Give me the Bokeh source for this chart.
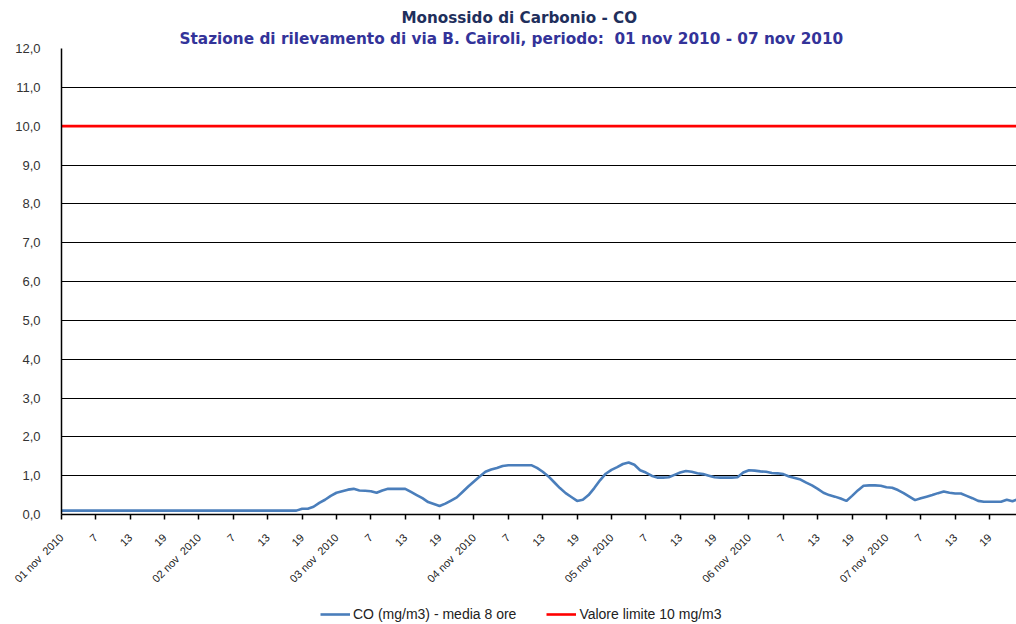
import math
from bokeh.plotting import figure
from bokeh.layouts import column
from bokeh.models import FixedTicker, Legend, LegendItem, Title, Range1d
from bokeh.embed import file_html
from bokeh.resources import INLINE

# Hourly CO 8-hour mean values (mg/m3), one list per day
nov01 = [0.10, 0.10, 0.10, 0.10, 0.10, 0.10, 0.10, 0.10, 0.10, 0.10, 0.10, 0.10,
         0.10, 0.10, 0.10, 0.10, 0.10, 0.10, 0.10, 0.10, 0.10, 0.10, 0.10, 0.10]
nov02 = [0.10, 0.10, 0.10, 0.10, 0.10, 0.10, 0.10, 0.10, 0.10, 0.10, 0.10, 0.10,
         0.10, 0.10, 0.10, 0.10, 0.10, 0.10, 0.15, 0.15, 0.20, 0.30, 0.38, 0.48]
nov03 = [0.56, 0.60, 0.64, 0.66, 0.62, 0.61, 0.60, 0.56, 0.62, 0.66, 0.66, 0.66,
         0.66, 0.58, 0.50, 0.42, 0.32, 0.27, 0.22, 0.28, 0.36, 0.44, 0.58, 0.72]
nov04 = [0.85, 0.98, 1.10, 1.16, 1.20, 1.25, 1.27, 1.27, 1.27, 1.27, 1.27, 1.20,
         1.10, 0.98, 0.83, 0.68, 0.55, 0.45, 0.35, 0.38, 0.50, 0.68, 0.88, 1.05]
nov05 = [1.15, 1.22, 1.30, 1.34, 1.28, 1.14, 1.08, 1.00, 0.95, 0.95, 0.96, 1.02,
         1.08, 1.12, 1.10, 1.06, 1.04, 1.00, 0.96, 0.95, 0.95, 0.95, 0.96, 1.08]
nov06 = [1.14, 1.13, 1.11, 1.10, 1.07, 1.06, 1.04, 0.98, 0.94, 0.90, 0.82, 0.75,
         0.66, 0.56, 0.50, 0.46, 0.41, 0.35, 0.48, 0.62, 0.74, 0.75, 0.75, 0.74]
nov07 = [0.70, 0.69, 0.63, 0.55, 0.46, 0.37, 0.42, 0.46, 0.50, 0.55, 0.59, 0.56,
         0.54, 0.54, 0.48, 0.42, 0.35, 0.33, 0.33, 0.33, 0.33, 0.38, 0.34, 0.40]

co_values = nov01 + nov02 + nov03 + nov04 + nov05 + nov06 + nov07
hours = list(range(len(co_values)))

limit_x = [0, 167]
limit_y = [10.0, 10.0]

day_labels = ["01 nov\u00a0 2010", "02 nov\u00a0 2010", "03 nov\u00a0 2010", "04 nov\u00a0 2010",
              "05 nov\u00a0 2010", "06 nov\u00a0 2010", "07 nov\u00a0 2010"]
hour_labels = ["7", "13", "19"]
y_ticks = [0, 1, 2, 3, 4, 5, 6, 7, 8, 9, 10, 11, 12]

title_text = "Monossido di Carbonio - CO"
subtitle_text = "Stazione di rilevamento di via B. Cairoli, periodo:\u00a0 01 nov 2010 - 07 nov 2010"
series_label = "CO (mg/m3) - media 8 ore"
limit_label = "Valore limite 10 mg/m3"

CO_COLOR = "#4a7ebb"
LIMIT_COLOR = "#ff0000"

p = figure(width=1016, height=604, output_backend="svg", toolbar_location=None,
           x_range=Range1d(0, 166.7), y_range=Range1d(0, 12),
           min_border_left=61, min_border_right=0, min_border_top=48, min_border_bottom=90)
p.outline_line_color = None
p.background_fill_color = "white"
p.border_fill_color = "white"

p.add_layout(Title(text=subtitle_text, align="left", offset=118, text_font="DejaVu Sans",
                   text_font_size="15.3px", text_font_style="bold",
                   text_color="#333399", standoff=2), "above")
p.add_layout(Title(text=title_text, align="left", offset=340, text_font="DejaVu Sans",
                   text_font_size="15.2px", text_font_style="bold",
                   text_color="#1f2f5c", standoff=0), "above")

p.line(hours, co_values, line_color=CO_COLOR, line_width=2.6)
p.line(limit_x, limit_y, line_color=LIMIT_COLOR, line_width=2.6)

# x axis
ticks = list(range(0, 167, 6))
overrides = {}
for t in ticks:
    if t % 24 == 0:
        overrides[t] = day_labels[t // 24]
    else:
        overrides[t] = hour_labels[(t % 24) // 6 - 1]
p.xaxis.ticker = FixedTicker(ticks=ticks)
p.xaxis.major_label_overrides = overrides
p.xaxis.major_label_orientation = math.pi / 4
p.xaxis.major_label_text_font = "Liberation Sans"
p.xaxis.major_label_text_font_size = "11px"
p.xaxis.major_label_text_color = "#222222"
p.xaxis.axis_line_color = "black"
p.xaxis.axis_line_width = 1.5
p.xaxis.major_tick_line_color = "black"
p.xaxis.major_tick_line_width = 1.5
p.xaxis.major_tick_in = 0
p.xaxis.major_tick_out = 5
p.xaxis.minor_tick_line_color = None
p.xaxis.major_label_standoff = 16

# y axis
p.yaxis.ticker = FixedTicker(ticks=y_ticks)
p.yaxis.major_label_overrides = {v: f"{v},0" for v in y_ticks}
p.yaxis.major_label_text_font = "Liberation Sans"
p.yaxis.major_label_text_font_size = "13px"
p.yaxis.major_label_text_color = "#333333"
p.yaxis.axis_line_color = "black"
p.yaxis.axis_line_width = 1.5
p.yaxis.major_tick_line_color = None
p.yaxis.minor_tick_line_color = None
p.yaxis.major_label_standoff = 15

p.xgrid.grid_line_color = None
p.ygrid.grid_line_color = "black"
p.ygrid.grid_line_width = 1.2
p.ygrid.grid_line_alpha = 1.0

# legend strip (separate small figure so the legend is not clipped by the main frame)
lg = figure(width=1016, height=20, output_backend="svg", toolbar_location=None,
            x_axis_type=None, y_axis_type=None, x_range=Range1d(0, 1), y_range=Range1d(50, 51),
            min_border=0, min_border_left=0, min_border_right=0, min_border_top=0,
            min_border_bottom=0)
lg.outline_line_color = None
lg.xgrid.grid_line_color = None
lg.ygrid.grid_line_color = None
# same series, out of this strip's view: only their legend swatches show
lr_co = lg.line(hours, co_values, line_color=CO_COLOR, line_width=2.6)
lr_lim = lg.line(limit_x, limit_y, line_color=LIMIT_COLOR, line_width=2.6)

legend = Legend(items=[LegendItem(label=series_label, renderers=[lr_co]),
                       LegendItem(label=limit_label, renderers=[lr_lim])],
                orientation="horizontal", location=(259, 0),
                label_text_font="Liberation Sans", label_text_font_size="14px",
                label_text_color="#222222", glyph_width=30, glyph_height=20,
                label_height=20, label_standoff=3,
                spacing=30, border_line_color=None, background_fill_alpha=0,
                padding=0, margin=0)
lg.add_layout(legend, "center")

layout = column(p, lg, spacing=0)
open("out.html", "w").write(file_html(layout, INLINE))
